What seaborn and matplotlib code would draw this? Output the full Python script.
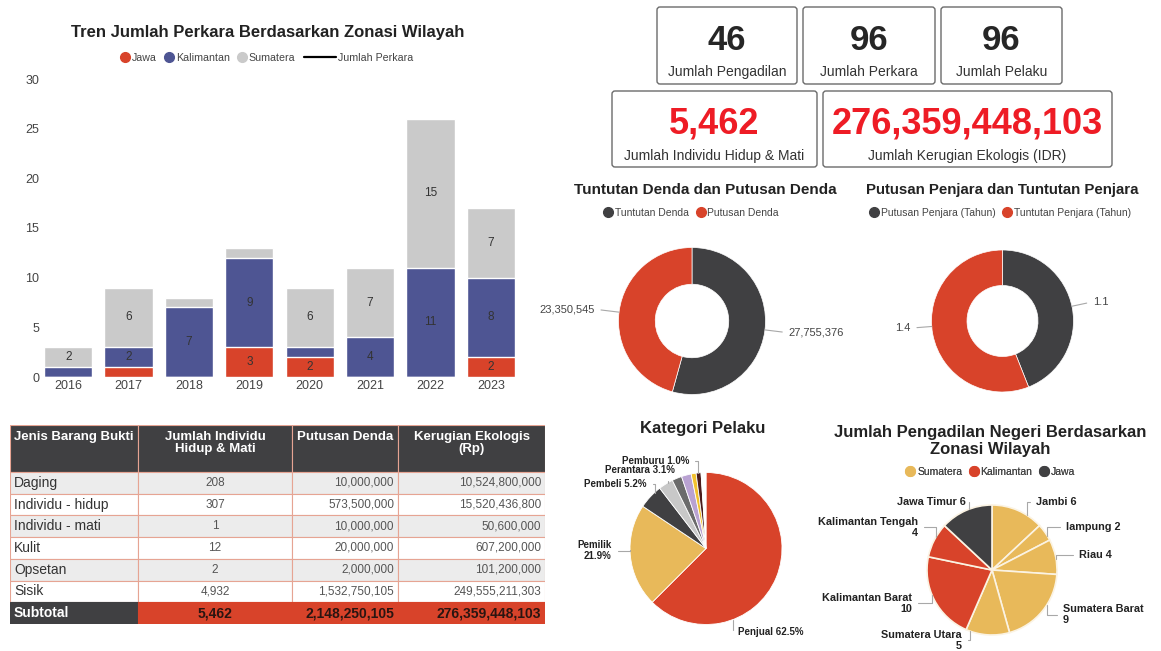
import numpy as np
import pandas as pd
import matplotlib
matplotlib.use('Agg')
import matplotlib.pyplot as plt
import seaborn as sns
from matplotlib.lines import Line2D
from matplotlib.patches import Rectangle, FancyBboxPatch

# ---------------- data ----------------
years = ['2016', '2017', '2018', '2019', '2020', '2021', '2022', '2023']
jawa = [0, 1, 0, 3, 2, 0, 0, 2]
kalimantan = [1, 2, 7, 9, 1, 4, 11, 8]
sumatera = [2, 6, 1, 1, 6, 7, 15, 7]

table_jenis = ['Daging', 'Individu - hidup', 'Individu - mati', 'Kulit', 'Opsetan', 'Sisik']
table_individu = [208, 307, 1, 12, 2, 4932]
table_denda = [10000000, 573500000, 10000000, 20000000, 2000000, 1532750105]
table_kerugian = [10524800000, 15520436800, 50600000, 607200000, 101200000, 249555211303]
table_header = ['Jenis Barang Bukti', 'Jumlah Individu\nHidup & Mati', 'Putusan Denda', 'Kerugian Ekologis\n(Rp)']

denda_labels = ['Tuntutan Denda', 'Putusan Denda']
denda_values = [27755376, 23350545]
penjara_labels = ['Putusan Penjara (Tahun)', 'Tuntutan Penjara (Tahun)']
penjara_values = [1.1, 1.4]

pelaku_labels = ['Penjual', 'Pemilik', 'Pembeli', 'Perantara', '', '', '', 'Pemburu', '']
pelaku_counts = [60, 21, 5, 3, 2, 2, 1, 1, 1]

pn_labels = ['Jambi', 'lampung', 'Riau', 'Sumatera Barat', 'Sumatera Utara',
             'Kalimantan Barat', 'Kalimantan Tengah', 'Jawa Timur']
pn_counts = [6, 2, 4, 9, 5, 10, 4, 6]
pn_zona = ['Sumatera'] * 5 + ['Kalimantan'] * 2 + ['Jawa']

# ---------------- style ----------------
W, H = 1161, 651
RED = '#d8432a'
NAVY = '#4e5593'
LGRAY = '#cacaca'
DARK = '#404042'
YELLOW = '#e8b95a'
KPI_RED = '#ee1c25'
TXT = '#222222'

sns.set_theme(style='white')
plt.rcParams['font.family'] = ['Liberation Sans', 'DejaVu Sans']
plt.rcParams['text.color'] = TXT

fig = plt.figure(figsize=(W / 100, H / 100), dpi=100)
fig.patch.set_facecolor('white')


def px_axes(x0, y0, x1, y1):
    return fig.add_axes([x0 / W, 1 - y1 / H, (x1 - x0) / W, (y1 - y0) / H])


bg = px_axes(0, 0, W, H)
bg.set_xlim(0, W)
bg.set_ylim(H, 0)
bg.axis('off')


def dot_legend(names, colors, x, y, size=7.5, loc='center'):
    handles = [Line2D([], [], marker='o', linestyle='', markersize=7,
                      markerfacecolor=c, markeredgecolor=c) for c in colors]
    leg = bg.legend(handles, names, loc=loc, bbox_to_anchor=(x, y), bbox_transform=bg.transData,
                    ncol=len(handles), frameon=False, fontsize=size, handlelength=1.0,
                    handletextpad=0.15, columnspacing=0.6, borderpad=0, borderaxespad=0,
                    labelcolor='#444444')
    bg.add_artist(leg)


# ---------------- bar chart ----------------
bars = pd.DataFrame({'year': years, 'Jawa': jawa, 'Kalimantan': kalimantan, 'Sumatera': sumatera})
bars['kal_top'] = bars['Jawa'] + bars['Kalimantan']
bars['total'] = bars['kal_top'] + bars['Sumatera']

ax = px_axes(38, 79, 521, 377)
for col, c in [('total', LGRAY), ('kal_top', NAVY), ('Jawa', RED)]:
    sns.barplot(data=bars, x='year', y=col, color=c, saturation=1, width=0.8,
                errorbar=None, ax=ax)
bottom = np.zeros(len(years))
for vals in (jawa, kalimantan, sumatera):
    for i, v in enumerate(vals):
        if v >= 2:
            ax.text(i, bottom[i] + v / 2, str(v), ha='center', va='center', fontsize=8.5, color='#333333')
    bottom += np.array(vals)
ax.set_xlim(-0.5, len(years) - 0.5)
ax.set_ylim(0, 30)
ax.set_yticks(range(0, 31, 5))
ax.set_xlabel('')
ax.set_ylabel('')
ax.tick_params(axis='x', length=0, labelsize=9, colors='#444444', pad=2)
ax.tick_params(axis='y', length=0, labelsize=9, colors='#444444', pad=-1)
sns.despine(ax=ax, left=True, bottom=True)

bg.text(268, 32, 'Tren Jumlah Perkara Berdasarkan Zonasi Wilayah', ha='center', va='center',
        fontsize=12, fontweight='bold')
dot_legend(['Jawa', 'Kalimantan', 'Sumatera'], [RED, NAVY, LGRAY], 120, 58, size=7.7,
           loc='center left')
line_leg = bg.legend([Line2D([], [], color='black', lw=1.6)], ['Jumlah Perkara'], loc='center left',
                     bbox_to_anchor=(304, 58), bbox_transform=bg.transData, frameon=False,
                     fontsize=7.7, handlelength=3.0, handletextpad=0.2, borderpad=0,
                     borderaxespad=0, labelcolor='#444444')
bg.add_artist(line_leg)

# ---------------- table ----------------
tab = px_axes(10, 425, 545, 624)
col_w = [128, 154, 106, 147]
col_x = np.concatenate([[0], np.cumsum(col_w)])
head_h = 47
n_rows = len(table_jenis) + 1
row_h = (199 - head_h) / n_rows
tab.set_xlim(0, col_x[-1])
tab.set_ylim(199, 0)
tab.axis('off')
GRID = '#e6a493'

for j, txt in enumerate(table_header):
    tab.add_patch(Rectangle((col_x[j], 0), col_w[j], head_h, fc=DARK, ec=GRID, lw=0.8))
    if j == 0:
        tab.text(col_x[j] + 4, 6, txt, ha='left', va='top', color='white', fontsize=9.5,
                 fontweight='bold')
    else:
        tab.text(col_x[j] + col_w[j] / 2, 6, txt, ha='center', va='top', color='white',
                 fontsize=9.5, fontweight='bold', linespacing=1.05)

rows = list(zip(table_jenis, table_individu, table_denda, table_kerugian))
for i, row in enumerate(rows):
    y0 = head_h + i * row_h
    fc = '#ececec' if i % 2 == 0 else 'white'
    for j, val in enumerate(row):
        tab.add_patch(Rectangle((col_x[j], y0), col_w[j], row_h, fc=fc, ec=GRID, lw=0.8))
        yc = y0 + row_h / 2
        if j == 0:
            tab.text(col_x[j] + 4, yc, val, ha='left', va='center', fontsize=10, color='#333333')
        elif j == 1:
            tab.text(col_x[j] + col_w[j] / 2, yc, f'{val:,}', ha='center', va='center',
                     fontsize=8.5, color='#555555')
        else:
            tab.text(col_x[j + 1] - 4, yc, f'{val:,}', ha='right', va='center',
                     fontsize=8.5, color='#555555')

subtotal = [sum(table_individu), sum(table_denda), sum(table_kerugian)]
y0 = head_h + len(rows) * row_h
yc = y0 + row_h / 2
tab.add_patch(Rectangle((col_x[0], y0), col_w[0], row_h, fc=DARK, ec=DARK, lw=0.8))
tab.text(4, yc, 'Subtotal', ha='left', va='center', color='white', fontsize=10, fontweight='bold')
for j, val in enumerate(subtotal, start=1):
    tab.add_patch(Rectangle((col_x[j], y0), col_w[j], row_h, fc=RED, ec=RED, lw=0.8))
    if j == 1:
        tab.text(col_x[j] + col_w[j] / 2, yc, f'{val:,}', ha='center', va='center',
                 fontsize=10, fontweight='bold', color='#2a1511')
    else:
        tab.text(col_x[j + 1] - 4, yc, f'{val:,}', ha='right', va='center',
                 fontsize=10, fontweight='bold', color='#2a1511')

# ---------------- KPI boxes ----------------
kpi_values = [f'{sum(pn_counts)}', f'{sum(bars["total"])}', f'{sum(pelaku_counts)}']
kpi_labels = ['Jumlah Pengadilan', 'Jumlah Perkara', 'Jumlah Pelaku']
kpi_boxes = [(657, 7, 797, 84), (803, 7, 935, 84), (941, 7, 1062, 84)]
for (x0, y0, x1, y1), v, lab in zip(kpi_boxes, kpi_values, kpi_labels):
    bg.add_patch(FancyBboxPatch((x0, y0), x1 - x0, y1 - y0, boxstyle='round,pad=0,rounding_size=3',
                                fc='white', ec='#6b6b6b', lw=1.0))
    xc = (x0 + x1) / 2
    bg.text(xc, 41, v, ha='center', va='center', fontsize=25, fontweight='bold', color='#262626')
    bg.text(xc, 72, lab, ha='center', va='center', fontsize=10, color='#333333')

kpi_red_values = [f'{sum(table_individu):,}', f'{sum(table_kerugian):,}']
kpi_red_labels = ['Jumlah Individu Hidup & Mati', 'Jumlah Kerugian Ekologis (IDR)']
kpi_red_boxes = [(612, 91, 817, 167), (823, 91, 1112, 167)]
for (x0, y0, x1, y1), v, lab in zip(kpi_red_boxes, kpi_red_values, kpi_red_labels):
    bg.add_patch(FancyBboxPatch((x0, y0), x1 - x0, y1 - y0, boxstyle='round,pad=0,rounding_size=3',
                                fc='white', ec='#6b6b6b', lw=1.0))
    xc = (x0 + x1) / 2
    bg.text(xc, 124, v, ha='center', va='center', fontsize=26, fontweight='bold', color=KPI_RED)
    bg.text(xc, 156, lab, ha='center', va='center', fontsize=10, color='#333333')


# ---------------- pies ----------------
def pie_axes(cx, cy, r):
    h = 1.25 * r
    return px_axes(cx - h, cy - h, cx + h, cy + h)


def anchor_angle(w, dx, dy):
    t1, t2 = w.theta1, w.theta2
    mid = (t1 + t2) / 2
    a = np.degrees(np.arctan2(dy, dx))
    a = mid + ((a - mid + 180) % 360 - 180)
    m = min(4, (t2 - t1) / 3)
    return np.clip(a, t1 + m, t2 - m)


def leader(axp, w, text, dx, dy, ha, fontsize, bold, conn='arc3'):
    a = np.radians(anchor_angle(w, dx, dy))
    axp.annotate(text, xy=(np.cos(a), np.sin(a)), xytext=(dx, dy), ha=ha, va='center',
                 fontsize=fontsize, fontweight='bold' if bold else 'normal',
                 color='#222222' if bold else '#444444', linespacing=1.1,
                 arrowprops=dict(arrowstyle='-', color='#a8a8a8', lw=0.8, shrinkA=2, shrinkB=0,
                                 relpos=(0, 0.5) if ha == 'left' else (1, 0.5),
                                 connectionstyle=conn))


def finish(axp):
    axp.set_xlim(-1.25, 1.25)
    axp.set_ylim(-1.25, 1.25)
    axp.set_aspect('equal')
    axp.axis('off')


# donut: denda
axd = pie_axes(692, 321, 73.5)
wd, _ = axd.pie(denda_values, colors=[DARK, RED], startangle=90, counterclock=False,
                wedgeprops=dict(width=0.5, edgecolor='white', linewidth=0.5))
finish(axd)
leader(axd, wd[0], f'{denda_values[0]:,}', 1.31, -0.16, 'left', 8, False)
leader(axd, wd[1], f'{denda_values[1]:,}', -1.32, 0.16, 'right', 8, False)
bg.text(705, 190, 'Tuntutan Denda dan Putusan Denda', ha='center', va='center',
        fontsize=11, fontweight='bold')
dot_legend(denda_labels, [DARK, RED], 691, 213)

# donut: penjara
axj = pie_axes(1002.5, 321, 71)
wj, _ = axj.pie(penjara_values, colors=[DARK, RED], startangle=90, counterclock=False,
                wedgeprops=dict(width=0.5, edgecolor='white', linewidth=0.5))
finish(axj)
leader(axj, wj[0], f'{penjara_values[0]}', 1.27, 0.27, 'left', 8, False)
leader(axj, wj[1], f'{penjara_values[1]}', -1.29, -0.10, 'right', 8, False)
bg.text(1002, 190, 'Putusan Penjara dan Tuntutan Penjara', ha='center', va='center',
        fontsize=10.8, fontweight='bold')
dot_legend(penjara_labels, [DARK, RED], 1000, 213)

# pie: kategori pelaku
pelaku_colors = [RED, YELLOW, DARK, '#c8c8c8', '#6b6b6b', '#b9a2d2', '#f2c12e', '#4b1c1c', 'white']
axk = pie_axes(706, 548.5, 76)
wk, _ = axk.pie(pelaku_counts, colors=pelaku_colors, startangle=90, counterclock=False,
                wedgeprops=dict(edgecolor='white', linewidth=0.6))
finish(axk)
pelaku_pos = {'Penjual': (0.42, -1.10, 'left'), 'Pemilik': (-1.24, -0.03, 'right'),
              'Pembeli': (-0.78, 0.85, 'right'), 'Perantara': (-0.41, 1.03, 'right'),
              'Pemburu': (-0.22, 1.15, 'right')}
total_pelaku = sum(pelaku_counts)
for w, lab, n in zip(wk, pelaku_labels, pelaku_counts):
    if not lab:
        continue
    pct = 100 * n / total_pelaku
    dx, dy, ha = pelaku_pos[lab]
    txt = f'{lab}\n{pct:.1f}%' if lab == 'Pemilik' else f'{lab} {pct:.1f}%'
    leader(axk, w, txt, dx, dy, ha, 7, True, conn='angle,angleA=0,angleB=90,rad=0')
bg.text(703, 428, 'Kategori Pelaku', ha='center', va='center', fontsize=12, fontweight='bold')

# pie: pengadilan negeri
zona_colors = {'Sumatera': YELLOW, 'Kalimantan': RED, 'Jawa': DARK}
axp = pie_axes(992, 570, 65)
wp, _ = axp.pie(pn_counts, colors=[zona_colors[z] for z in pn_zona], startangle=90,
                counterclock=False, wedgeprops=dict(edgecolor='#fbf3e3', linewidth=1.2))
finish(axp)
pn_pos = {'Jambi': (0.68, 1.05, 'left'), 'lampung': (1.14, 0.66, 'left'),
          'Riau': (1.34, 0.23, 'left'), 'Sumatera Barat': (1.09, -0.69, 'left'),
          'Sumatera Utara': (-0.46, -1.08, 'right'), 'Kalimantan Barat': (-1.23, -0.51, 'right'),
          'Kalimantan Tengah': (-1.14, 0.66, 'right'), 'Jawa Timur': (-0.40, 1.05, 'right')}
for w, lab, n in zip(wp, pn_labels, pn_counts):
    dx, dy, ha = pn_pos[lab]
    sep = '\n' if len(lab) > 10 else ' '
    leader(axp, w, f'{lab}{sep}{n}', dx, dy, ha, 7.8, True, conn='angle,angleA=0,angleB=90,rad=0')
bg.text(990, 441, 'Jumlah Pengadilan Negeri Berdasarkan\nZonasi Wilayah', ha='center', va='center',
        fontsize=12, fontweight='bold', linespacing=1.1)
dot_legend(list(zona_colors), list(zona_colors.values()), 990, 472)

fig.savefig('out.png', dpi=100, facecolor='white')
